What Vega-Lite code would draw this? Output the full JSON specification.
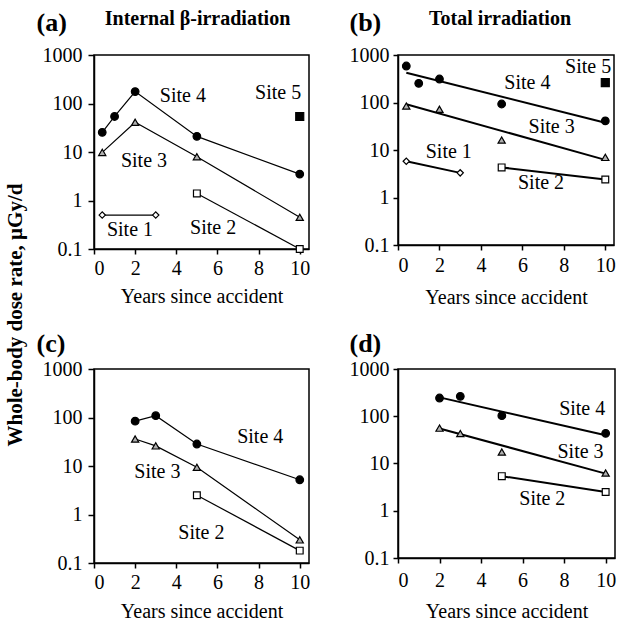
{
  "$schema": "https://vega.github.io/schema/vega-lite/v6.json",
  "padding": {"left": 5, "top": 8, "right": 0, "bottom": 0},
  "background": "white",
  "title": {"text": "Whole-body dose rate, µGy/d", "orient": "left", "anchor": "middle", "fontSize": 21, "fontWeight": "bold", "offset": 9},
  "config": {
    "font": "Liberation Serif, Times New Roman, serif",
    "view": {"stroke": "black", "strokeWidth": 1.5},
    "title": {"color": "black", "font": "Liberation Serif, Times New Roman, serif"},
    "text": {"font": "Liberation Serif, Times New Roman, serif"},
    "axis": {"labelFontSize": 20, "titleFontSize": 20, "titleFontWeight": "normal", "labelColor": "black", "titleColor": "black", "tickColor": "black", "domainColor": "black", "domainWidth": 1.5, "tickWidth": 1.5, "grid": false, "labelFont": "Liberation Serif, Times New Roman, serif", "titleFont": "Liberation Serif, Times New Roman, serif"}
  },
  "datasets": {
    "points": [
      {"p": "a", "site": "Site 4", "x": 0.4, "y": 25.4},
      {"p": "a", "site": "Site 4", "x": 1, "y": 54},
      {"p": "a", "site": "Site 4", "x": 2, "y": 176},
      {"p": "a", "site": "Site 4", "x": 5, "y": 21},
      {"p": "a", "site": "Site 4", "x": 10, "y": 3.5},
      {"p": "a", "site": "Site 3", "x": 0.4, "y": 9.8},
      {"p": "a", "site": "Site 3", "x": 2, "y": 41},
      {"p": "a", "site": "Site 3", "x": 5, "y": 8.0},
      {"p": "a", "site": "Site 3", "x": 10, "y": 0.45},
      {"p": "a", "site": "Site 2", "x": 5, "y": 1.4},
      {"p": "a", "site": "Site 2", "x": 10, "y": 0.1},
      {"p": "a", "site": "Site 1", "x": 0.4, "y": 0.5},
      {"p": "a", "site": "Site 1", "x": 3, "y": 0.5},
      {"p": "a", "site": "Site 5", "x": 10, "y": 54},
      {"p": "b", "site": "Site 4", "x": 0.4, "y": 586},
      {"p": "b", "site": "Site 4", "x": 1, "y": 253},
      {"p": "b", "site": "Site 4", "x": 2, "y": 312},
      {"p": "b", "site": "Site 4", "x": 5, "y": 93},
      {"p": "b", "site": "Site 4", "x": 10, "y": 41},
      {"p": "b", "site": "Site 3", "x": 0.4, "y": 84},
      {"p": "b", "site": "Site 3", "x": 2, "y": 72},
      {"p": "b", "site": "Site 3", "x": 5, "y": 16.2},
      {"p": "b", "site": "Site 3", "x": 10, "y": 7.0},
      {"p": "b", "site": "Site 1", "x": 0.4, "y": 5.8},
      {"p": "b", "site": "Site 1", "x": 3, "y": 3.3},
      {"p": "b", "site": "Site 2", "x": 5, "y": 4.3},
      {"p": "b", "site": "Site 2", "x": 10, "y": 2.4},
      {"p": "b", "site": "Site 5", "x": 10, "y": 261},
      {"p": "c", "site": "Site 4", "x": 2, "y": 84},
      {"p": "c", "site": "Site 4", "x": 3, "y": 109},
      {"p": "c", "site": "Site 4", "x": 5, "y": 28.4},
      {"p": "c", "site": "Site 4", "x": 10, "y": 5.2},
      {"p": "c", "site": "Site 3", "x": 2, "y": 36},
      {"p": "c", "site": "Site 3", "x": 3, "y": 26},
      {"p": "c", "site": "Site 3", "x": 5, "y": 9.4},
      {"p": "c", "site": "Site 3", "x": 10, "y": 0.30},
      {"p": "c", "site": "Site 2", "x": 5, "y": 2.5},
      {"p": "c", "site": "Site 2", "x": 10, "y": 0.18},
      {"p": "d", "site": "Site 4", "x": 2, "y": 243},
      {"p": "d", "site": "Site 4", "x": 3, "y": 264},
      {"p": "d", "site": "Site 4", "x": 5, "y": 103},
      {"p": "d", "site": "Site 4", "x": 10, "y": 43.5},
      {"p": "d", "site": "Site 3", "x": 2, "y": 56},
      {"p": "d", "site": "Site 3", "x": 3, "y": 43},
      {"p": "d", "site": "Site 3", "x": 5, "y": 17.5},
      {"p": "d", "site": "Site 3", "x": 10, "y": 6.3},
      {"p": "d", "site": "Site 2", "x": 5, "y": 5.4},
      {"p": "d", "site": "Site 2", "x": 10, "y": 2.5}
    ],
    "lines": [
      {"p": "a", "site": "Site 4", "x": 0.4, "y": 25.4},
      {"p": "a", "site": "Site 4", "x": 1, "y": 54},
      {"p": "a", "site": "Site 4", "x": 2, "y": 176},
      {"p": "a", "site": "Site 4", "x": 5, "y": 21},
      {"p": "a", "site": "Site 4", "x": 10, "y": 3.5},
      {"p": "a", "site": "Site 3", "x": 0.4, "y": 9.8},
      {"p": "a", "site": "Site 3", "x": 2, "y": 41},
      {"p": "a", "site": "Site 3", "x": 5, "y": 8.0},
      {"p": "a", "site": "Site 3", "x": 10, "y": 0.45},
      {"p": "a", "site": "Site 2", "x": 5, "y": 1.4},
      {"p": "a", "site": "Site 2", "x": 10, "y": 0.1},
      {"p": "a", "site": "Site 1", "x": 0.4, "y": 0.5},
      {"p": "a", "site": "Site 1", "x": 3, "y": 0.5},
      {"p": "b", "site": "Site 4", "x": 0.4, "y": 424},
      {"p": "b", "site": "Site 4", "x": 10, "y": 37.6},
      {"p": "b", "site": "Site 3", "x": 0.4, "y": 92},
      {"p": "b", "site": "Site 3", "x": 10, "y": 6.2},
      {"p": "b", "site": "Site 1", "x": 0.4, "y": 5.8},
      {"p": "b", "site": "Site 1", "x": 3, "y": 3.3},
      {"p": "b", "site": "Site 2", "x": 5, "y": 4.3},
      {"p": "b", "site": "Site 2", "x": 10, "y": 2.4},
      {"p": "c", "site": "Site 4", "x": 2, "y": 84},
      {"p": "c", "site": "Site 4", "x": 3, "y": 109},
      {"p": "c", "site": "Site 4", "x": 5, "y": 28.4},
      {"p": "c", "site": "Site 4", "x": 10, "y": 5.2},
      {"p": "c", "site": "Site 3", "x": 2, "y": 36},
      {"p": "c", "site": "Site 3", "x": 3, "y": 26},
      {"p": "c", "site": "Site 3", "x": 5, "y": 9.4},
      {"p": "c", "site": "Site 3", "x": 10, "y": 0.30},
      {"p": "c", "site": "Site 2", "x": 5, "y": 2.5},
      {"p": "c", "site": "Site 2", "x": 10, "y": 0.18},
      {"p": "d", "site": "Site 4", "x": 2, "y": 251},
      {"p": "d", "site": "Site 4", "x": 10, "y": 39.5},
      {"p": "d", "site": "Site 3", "x": 2, "y": 55},
      {"p": "d", "site": "Site 3", "x": 10, "y": 6.1},
      {"p": "d", "site": "Site 2", "x": 5, "y": 5.4},
      {"p": "d", "site": "Site 2", "x": 10, "y": 2.5}
    ],
    "labels": [
      {"p": "a", "text": "Site 4", "x": 4.32, "y": 146},
      {"p": "a", "text": "Site 5", "x": 8.95, "y": 162},
      {"p": "a", "text": "Site 3", "x": 2.43, "y": 6.6},
      {"p": "a", "text": "Site 1", "x": 1.75, "y": 0.244},
      {"p": "a", "text": "Site 2", "x": 5.79, "y": 0.277},
      {"p": "b", "text": "Site 5", "x": 9.17, "y": 568},
      {"p": "b", "text": "Site 4", "x": 6.24, "y": 254},
      {"p": "b", "text": "Site 3", "x": 7.41, "y": 31},
      {"p": "b", "text": "Site 1", "x": 2.45, "y": 9.2},
      {"p": "b", "text": "Site 2", "x": 6.9, "y": 2.05},
      {"p": "c", "text": "Site 4", "x": 8.08, "y": 39},
      {"p": "c", "text": "Site 3", "x": 3.08, "y": 7.5},
      {"p": "c", "text": "Site 2", "x": 5.22, "y": 0.42},
      {"p": "d", "text": "Site 4", "x": 8.87, "y": 142},
      {"p": "d", "text": "Site 3", "x": 8.79, "y": 17.5},
      {"p": "d", "text": "Site 2", "x": 6.95, "y": 1.8}
    ]
  },
  "vconcat": [
    {
      "hconcat": [
        {
          "width": 215, "height": 194,
          "title": {"text": "Internal β-irradiation", "fontSize": 20, "fontWeight": "bold", "anchor": "middle", "dx": -4, "offset": -20},
          "encoding": {
            "x": {"field": "x", "type": "quantitative", "scale": {"domain": [0, 10.45], "nice": false}, "axis": {"values": [0, 2, 4, 6, 8, 10], "title": "Years since accident", "tickSize": 5, "labelPadding": 4, "titlePadding": 8}},
            "y": {"field": "y", "type": "quantitative", "scale": {"type": "log", "domain": [0.1, 1000], "nice": false}, "axis": {"values": [0.1, 1, 10, 100, 1000], "format": "~g", "tickSize": 6, "labelPadding": 6, "title": "(a)", "titleAngle": 0, "titleFontSize": 26, "titleFontWeight": "bold", "titleAlign": "left", "titleBaseline": "alphabetic", "titleX": -58, "titleY": -25}}
          },
          "layer": [
            {"data": {"name": "lines"}, "transform": [{"filter": "datum.p === 'a'"}], "mark": {"type": "line", "color": "black", "strokeWidth": 1.2}, "encoding": {"detail": {"field": "site"}, "order": {"field": "x"}}},
            {"data": {"name": "points"}, "transform": [{"filter": "datum.p === 'a'"}], "mark": {"type": "point", "filled": true, "stroke": "black", "strokeWidth": 1.2, "opacity": 1},
             "encoding": {
               "shape": {"field": "site", "scale": {"domain": ["Site 1", "Site 2", "Site 3", "Site 4", "Site 5"], "range": ["diamond", "square", "triangle-up", "circle", "square"]}, "legend": null},
               "fill": {"field": "site", "scale": {"domain": ["Site 1", "Site 2", "Site 3", "Site 4", "Site 5"], "range": ["white", "white", "#b0b0b0", "black", "black"]}, "legend": null},
               "size": {"field": "site", "scale": {"domain": ["Site 1", "Site 2", "Site 3", "Site 4", "Site 5"], "range": [40, 64, 60, 64, 64]}, "legend": null}
             }},
            {"data": {"name": "labels"}, "transform": [{"filter": "datum.p === 'a'"}], "mark": {"type": "text", "fontSize": 20, "align": "center", "baseline": "middle", "color": "black", "font": "Liberation Serif, Times New Roman, serif"}, "encoding": {"text": {"field": "text"}}}
          ]
        },
        {
          "width": 216, "height": 190,
          "title": {"text": "Total irradiation", "fontSize": 20, "fontWeight": "bold", "anchor": "middle", "dx": -6, "offset": -20},
          "encoding": {
            "x": {"field": "x", "type": "quantitative", "scale": {"domain": [0, 10.42], "nice": false}, "axis": {"values": [0, 2, 4, 6, 8, 10], "title": "Years since accident", "tickSize": 5, "labelPadding": 5, "titlePadding": 12}},
            "y": {"field": "y", "type": "quantitative", "scale": {"type": "log", "domain": [0.1, 1000], "nice": false}, "axis": {"values": [0.1, 1, 10, 100, 1000], "format": "~g", "tickSize": 5, "labelPadding": 4, "title": "(b)", "titleAngle": 0, "titleFontSize": 26, "titleFontWeight": "bold", "titleAlign": "left", "titleBaseline": "alphabetic", "titleX": -49, "titleY": -25}}
          },
          "layer": [
            {"data": {"name": "lines"}, "transform": [{"filter": "datum.p === 'b'"}], "mark": {"type": "line", "color": "black", "strokeWidth": 2}, "encoding": {"detail": {"field": "site"}, "order": {"field": "x"}}},
            {"data": {"name": "points"}, "transform": [{"filter": "datum.p === 'b'"}], "mark": {"type": "point", "filled": true, "stroke": "black", "strokeWidth": 1.2, "opacity": 1},
             "encoding": {
               "shape": {"field": "site", "scale": {"domain": ["Site 1", "Site 2", "Site 3", "Site 4", "Site 5"], "range": ["diamond", "square", "triangle-up", "circle", "square"]}, "legend": null},
               "fill": {"field": "site", "scale": {"domain": ["Site 1", "Site 2", "Site 3", "Site 4", "Site 5"], "range": ["white", "white", "#b0b0b0", "black", "black"]}, "legend": null},
               "size": {"field": "site", "scale": {"domain": ["Site 1", "Site 2", "Site 3", "Site 4", "Site 5"], "range": [40, 64, 60, 70, 64]}, "legend": null}
             }},
            {"data": {"name": "labels"}, "transform": [{"filter": "datum.p === 'b'"}], "mark": {"type": "text", "fontSize": 20, "align": "center", "baseline": "middle", "color": "black", "font": "Liberation Serif, Times New Roman, serif"}, "encoding": {"text": {"field": "text"}}}
          ]
        }
      ],
      "spacing": 37
    },
    {
      "hconcat": [
        {
          "width": 215, "height": 194,
          "encoding": {
            "x": {"field": "x", "type": "quantitative", "scale": {"domain": [0, 10.45], "nice": false}, "axis": {"values": [0, 2, 4, 6, 8, 10], "title": "Years since accident", "tickSize": 5, "labelPadding": 4, "titlePadding": 9}},
            "y": {"field": "y", "type": "quantitative", "scale": {"type": "log", "domain": [0.1, 1000], "nice": false}, "axis": {"values": [0.1, 1, 10, 100, 1000], "format": "~g", "tickSize": 6, "labelPadding": 6, "title": "(c)", "titleAngle": 0, "titleFontSize": 26, "titleFontWeight": "bold", "titleAlign": "left", "titleBaseline": "alphabetic", "titleX": -58, "titleY": -18}}
          },
          "layer": [
            {"data": {"name": "lines"}, "transform": [{"filter": "datum.p === 'c'"}], "mark": {"type": "line", "color": "black", "strokeWidth": 1.2}, "encoding": {"detail": {"field": "site"}, "order": {"field": "x"}}},
            {"data": {"name": "points"}, "transform": [{"filter": "datum.p === 'c'"}], "mark": {"type": "point", "filled": true, "stroke": "black", "strokeWidth": 1.2, "opacity": 1},
             "encoding": {
               "shape": {"field": "site", "scale": {"domain": ["Site 1", "Site 2", "Site 3", "Site 4", "Site 5"], "range": ["diamond", "square", "triangle-up", "circle", "square"]}, "legend": null},
               "fill": {"field": "site", "scale": {"domain": ["Site 1", "Site 2", "Site 3", "Site 4", "Site 5"], "range": ["white", "white", "#b0b0b0", "black", "black"]}, "legend": null},
               "size": {"field": "site", "scale": {"domain": ["Site 1", "Site 2", "Site 3", "Site 4", "Site 5"], "range": [40, 64, 60, 64, 64]}, "legend": null}
             }},
            {"data": {"name": "labels"}, "transform": [{"filter": "datum.p === 'c'"}], "mark": {"type": "text", "fontSize": 20, "align": "center", "baseline": "middle", "color": "black", "font": "Liberation Serif, Times New Roman, serif"}, "encoding": {"text": {"field": "text"}}}
          ]
        },
        {
          "width": 217, "height": 189,
          "encoding": {
            "x": {"field": "x", "type": "quantitative", "scale": {"domain": [0, 10.45], "nice": false}, "axis": {"values": [0, 2, 4, 6, 8, 10], "title": "Years since accident", "tickSize": 5, "labelPadding": 7, "titlePadding": 11}},
            "y": {"field": "y", "type": "quantitative", "scale": {"type": "log", "domain": [0.1, 1000], "nice": false}, "axis": {"values": [0.1, 1, 10, 100, 1000], "format": "~g", "tickSize": 5, "labelPadding": 4, "title": "(d)", "titleAngle": 0, "titleFontSize": 26, "titleFontWeight": "bold", "titleAlign": "left", "titleBaseline": "alphabetic", "titleX": -49, "titleY": -18}}
          },
          "layer": [
            {"data": {"name": "lines"}, "transform": [{"filter": "datum.p === 'd'"}], "mark": {"type": "line", "color": "black", "strokeWidth": 2}, "encoding": {"detail": {"field": "site"}, "order": {"field": "x"}}},
            {"data": {"name": "points"}, "transform": [{"filter": "datum.p === 'd'"}], "mark": {"type": "point", "filled": true, "stroke": "black", "strokeWidth": 1.2, "opacity": 1},
             "encoding": {
               "shape": {"field": "site", "scale": {"domain": ["Site 1", "Site 2", "Site 3", "Site 4", "Site 5"], "range": ["diamond", "square", "triangle-up", "circle", "square"]}, "legend": null},
               "fill": {"field": "site", "scale": {"domain": ["Site 1", "Site 2", "Site 3", "Site 4", "Site 5"], "range": ["white", "white", "#b0b0b0", "black", "black"]}, "legend": null},
               "size": {"field": "site", "scale": {"domain": ["Site 1", "Site 2", "Site 3", "Site 4", "Site 5"], "range": [40, 64, 60, 70, 64]}, "legend": null}
             }},
            {"data": {"name": "labels"}, "transform": [{"filter": "datum.p === 'd'"}], "mark": {"type": "text", "fontSize": 20, "align": "center", "baseline": "middle", "color": "black", "font": "Liberation Serif, Times New Roman, serif"}, "encoding": {"text": {"field": "text"}}}
          ]
        }
      ],
      "spacing": 37
    }
  ],
  "spacing": 21
}
